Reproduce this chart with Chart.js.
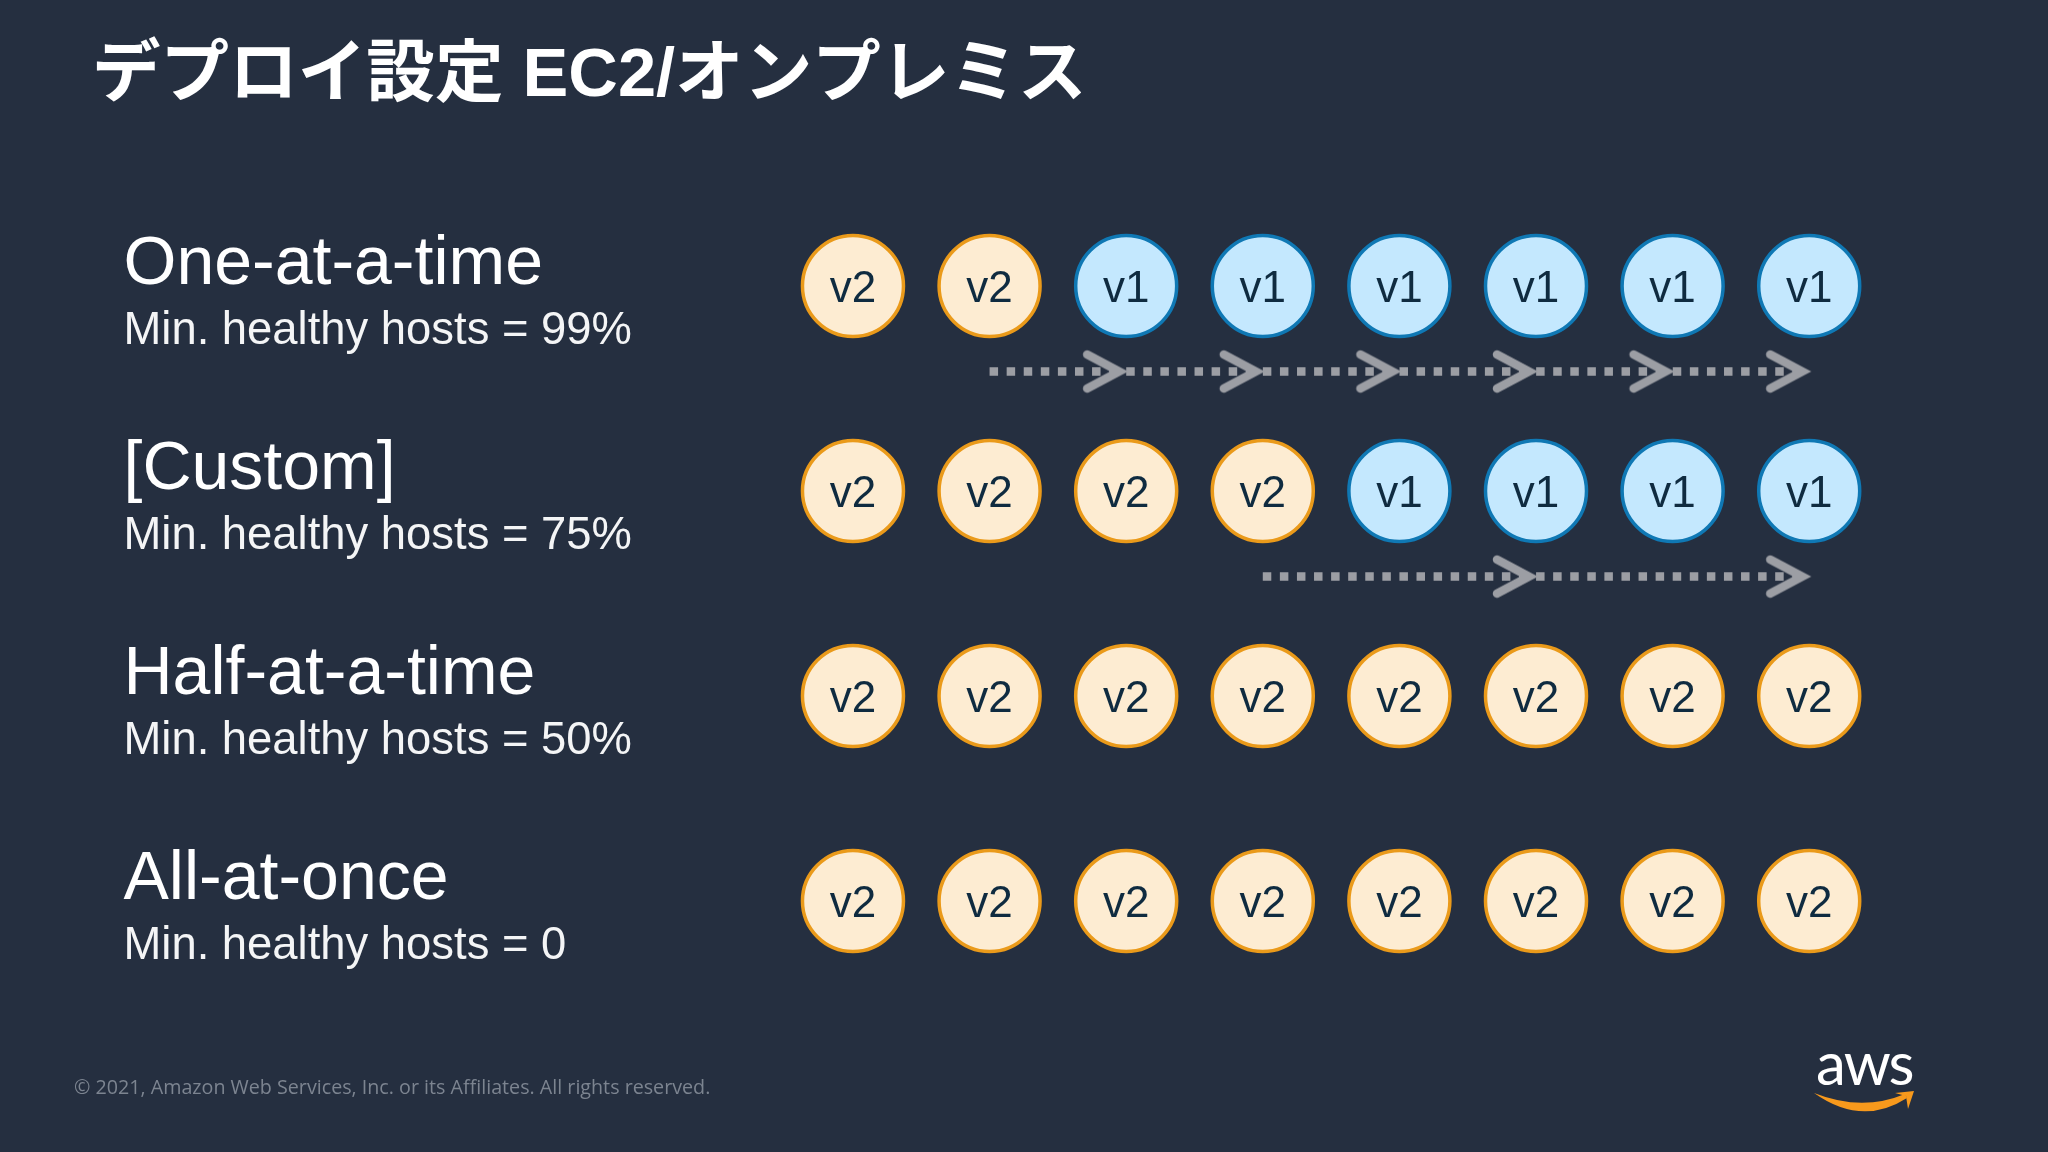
<!DOCTYPE html>
<html lang="ja">
<head>
<meta charset="utf-8">
<title>デプロイ設定 EC2/オンプレミス</title>
<script src="https://cdn.jsdelivr.net/npm/chart.js@4"></script>
<style>
  html, body { margin: 0; padding: 0; background: #252f40; }
  canvas { display: block; }
</style>
</head>
<body>
<canvas id="chart" width="2048" height="1152"></canvas>
<script>
const titleText = 'デプロイ設定 EC2/オンプレミス';
const footerText = '© 2021, Amazon Web Services, Inc. or its Affiliates. All rights reserved.';

const configNames = ['One-at-a-time', '[Custom]', 'Half-at-a-time', 'All-at-once'];
const minHealthy = ['Min. healthy hosts = 99%', 'Min. healthy hosts = 75%', 'Min. healthy hosts = 50%', 'Min. healthy hosts = 0'];
const hosts = [1, 2, 3, 4, 5, 6, 7, 8];

const row1 = ['v2', 'v2', 'v1', 'v1', 'v1', 'v1', 'v1', 'v1'];
const row2 = ['v2', 'v2', 'v2', 'v2', 'v1', 'v1', 'v1', 'v1'];
const row3 = ['v2', 'v2', 'v2', 'v2', 'v2', 'v2', 'v2', 'v2'];
const row4 = ['v2', 'v2', 'v2', 'v2', 'v2', 'v2', 'v2', 'v2'];
const rowVersions = [row1, row2, row3, row4];

// rolling arrows: row they sit under, and the hosts they stop at (first one is the tail)
const arrow1Hosts = [2, 3, 4, 5, 6, 7, 8];
const arrow2Hosts = [4, 6, 8];
const arrowGap = 0.417;

function pointsFor(version) {
  const pts = [];
  rowVersions.forEach((row, r) => {
    row.forEach((v, i) => {
      if (v === version) pts.push({ x: hosts[i], y: r, label: v });
    });
  });
  return pts;
}

// chevron head, tip sits on the centre of the image
function makeChevron() {
  const c = document.createElement('canvas');
  c.width = 96;
  c.height = 64;
  const g = c.getContext('2d');
  g.strokeStyle = '#9c9ea4';
  g.lineWidth = 8.5;
  g.lineCap = 'round';
  g.lineJoin = 'miter';
  g.beginPath();
  g.moveTo(9, 15);
  g.lineTo(41, 32);
  g.lineTo(9, 49);
  g.stroke();
  return c;
}
const chevron = makeChevron();

function arrowDataset(hostList, row) {
  return {
    type: 'line',
    data: hostList.map(h => ({ x: h, y: row + arrowGap })),
    borderColor: '#9c9ea4',
    borderWidth: 8.5,
    borderDash: [8.5, 8.58],
    fill: false,
    tension: 0,
    pointStyle: chevron,
    pointRadius: hostList.map((h, i) => i === 0 ? 0 : 20),
    order: 3
  };
}

function circleDataset(version, fill, stroke) {
  return {
    type: 'scatter',
    data: pointsFor(version),
    backgroundColor: fill,
    borderColor: stroke,
    borderWidth: 3.5,
    pointRadius: 50.5,
    order: 1
  };
}

const slideText = {
  id: 'slideText',
  afterDatasetsDraw(chart) {
    const ctx = chart.ctx;
    const y = chart.scales.y;
    ctx.save();
    ctx.textAlign = 'left';
    ctx.textBaseline = 'alphabetic';

    ctx.fillStyle = '#ffffff';
    ctx.font = 'bold 68.6px "Liberation Sans", "Noto Sans CJK JP"';
    ctx.fillText(titleText, 92, 96);

    configNames.forEach((name, r) => {
      const py = y.getPixelForValue(r);
      ctx.fillStyle = '#ffffff';
      ctx.font = '68px "Liberation Sans"';
      ctx.fillText(name, 123.5, py - 2);
      ctx.fillStyle = '#f4f5f6';
      ctx.font = '45.4px "Liberation Sans"';
      ctx.fillText(minHealthy[r], 123.5, py + 58);
    });

    // v1 / v2 inside the circles
    ctx.fillStyle = '#0f2b40';
    ctx.font = '44px "Liberation Sans"';
    ctx.textAlign = 'center';
    chart.data.datasets.forEach((ds, i) => {
      if (ds.type !== 'scatter') return;
      chart.getDatasetMeta(i).data.forEach((el, k) => {
        ctx.fillText(ds.data[k].label, el.x, el.y + 16);
      });
    });

    ctx.textAlign = 'left';
    ctx.fillStyle = '#7c8490';
    ctx.font = '19.7px "Open Sans"';
    ctx.fillText(footerText, 74, 1094);

    // logo
    ctx.fillStyle = '#ffffff';
    ctx.font = '60px "Lato"';
    ctx.letterSpacing = '-2px';
    ctx.fillText('aws', 1816, 1085);
    ctx.letterSpacing = '0px';
    ctx.fillStyle = '#f7991c';
    ctx.beginPath();
    ctx.moveTo(1814, 1093);
    ctx.quadraticCurveTo(1862, 1127, 1907, 1098);
    ctx.lineTo(1905, 1094);
    ctx.quadraticCurveTo(1862, 1112, 1814, 1093);
    ctx.fill();
    ctx.beginPath();
    ctx.moveTo(1895, 1093);
    ctx.lineTo(1914, 1091);
    ctx.lineTo(1908, 1109);
    ctx.lineTo(1906, 1096);
    ctx.closePath();
    ctx.fill();
    ctx.restore();
  }
};

new Chart(document.getElementById('chart'), {
  type: 'scatter',
  data: {
    datasets: [
      circleDataset('v2', '#fdecd2', '#ea9a1a'),
      circleDataset('v1', '#c4e8fe', '#0f78b4'),
      arrowDataset(arrow1Hosts, 0),
      arrowDataset(arrow2Hosts, 1)
    ]
  },
  options: {
    responsive: false,
    animation: false,
    devicePixelRatio: 1,
    layout: { padding: 0, autoPadding: false },
    plugins: { legend: { display: false }, title: { display: false }, tooltip: { enabled: false } },
    scales: {
      x: { type: 'linear', display: false, min: -5.244, max: 9.748 },
      y: { type: 'linear', display: false, reverse: true, min: -1.395, max: 4.224 }
    }
  },
  plugins: [slideText]
});
</script>
</body>
</html>
